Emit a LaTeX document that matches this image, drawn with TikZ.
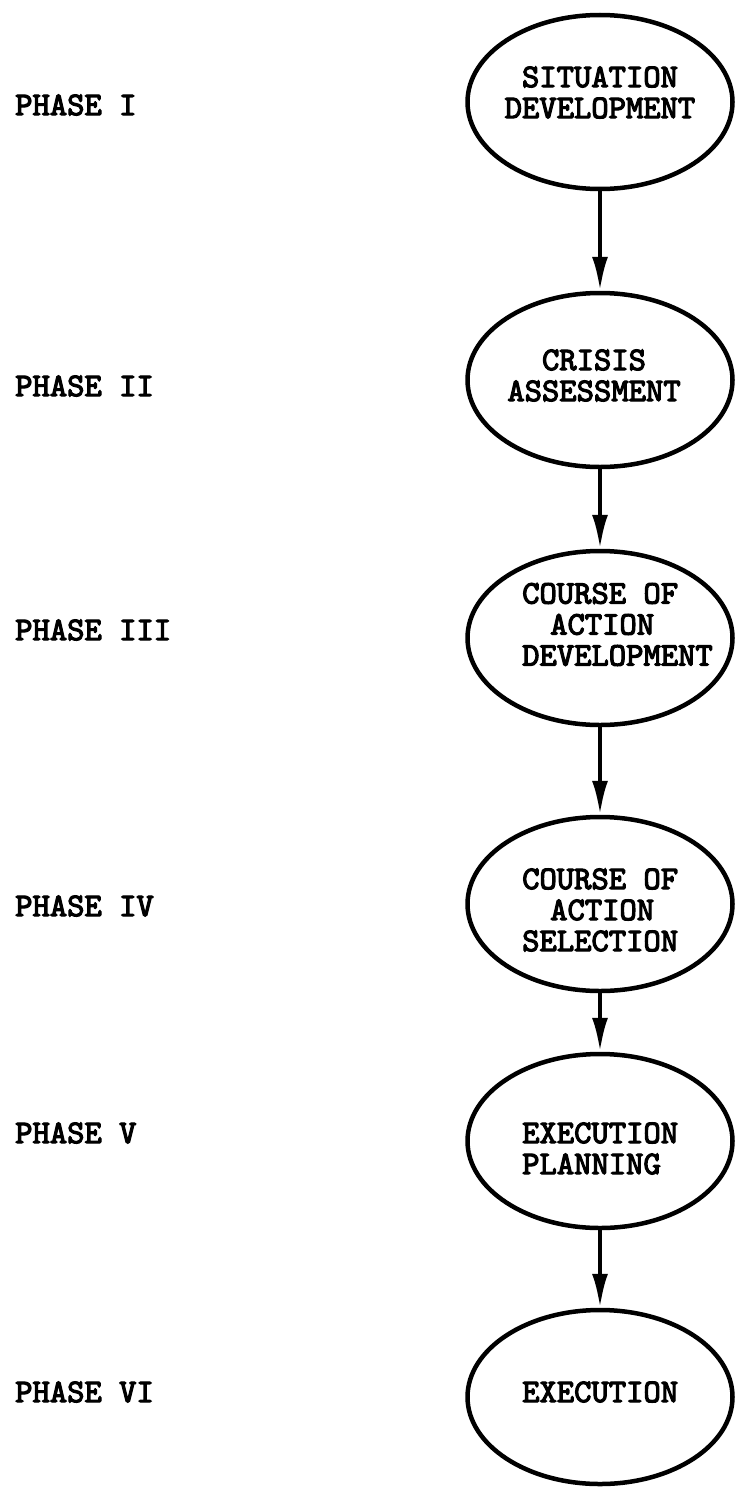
\documentclass[tikz,border=0pt]{standalone}
\usepackage{fontspec}
\newfontfamily\twfont{lmmono10-regular.otf}[FakeBold=3.5]
\usetikzlibrary{shapes.geometric,arrows.meta}
\tikzset{
  stage/.style={draw=black, line width=4.5pt, ellipse, minimum width=265pt, minimum height=174pt, inner sep=0pt},
  txt/.style={font=\twfont\bfseries\fontsize{33}{31}\selectfont, inner sep=0pt},
  phaselbl/.style={txt, anchor=west},
  flow/.style={line width=4pt, -{Latex[length=34pt,width=16pt]}}
}
\begin{document}
\begin{tikzpicture}[x=1pt,y=-1pt]
\useasboundingbox (0,0) rectangle (737,1488);
% phase labels
\node[phaselbl] (p1) at (15,105) {PHASE I};
\node[phaselbl] (p2) at (15,386) {PHASE II};
\node[phaselbl] (p3) at (15,630) {PHASE III};
\node[phaselbl] (p4) at (15,906) {PHASE IV};
\node[phaselbl] (p5) at (15,1133) {PHASE V};
\node[phaselbl] (p6) at (15,1392) {PHASE VI};
% ellipses
\node[stage] (e1) at (600,102) {};
\node[stage] (e2) at (600,380) {};
\node[stage] (e3) at (600,638) {};
\node[stage] (e4) at (600,904) {};
\node[stage] (e5) at (600,1141) {};
\node[stage] (e6) at (600,1397) {};
% texts
\node[txt, align=center] (t1) at (600,92.5) {SITUATION\\DEVELOPMENT};
\node[txt, align=center] (t2) at (594,375.5) {CRISIS\\ASSESSMENT};
\node[txt, align=left, anchor=west] (t3) at (522,624.5) {COURSE OF\\\hspace*{28pt}ACTION\\DEVELOPMENT};
\node[txt, align=left, anchor=west] (t4) at (522,910) {COURSE OF\\\hspace*{28pt}ACTION\\SELECTION};
\node[txt, align=left, anchor=west] (t5) at (522,1148.5) {EXECUTION\\PLANNING};
\node[txt, anchor=west] (t6) at (522,1392) {EXECUTION};
% connectors
\draw[flow] (e1.south) -- (e2.north);
\draw[flow] (e2.south) -- (e3.north);
\draw[flow] (e3.south) -- (e4.north);
\draw[flow] (e4.south) -- (e5.north);
\draw[flow] (e5.south) -- (e6.north);
\end{tikzpicture}
\end{document}
